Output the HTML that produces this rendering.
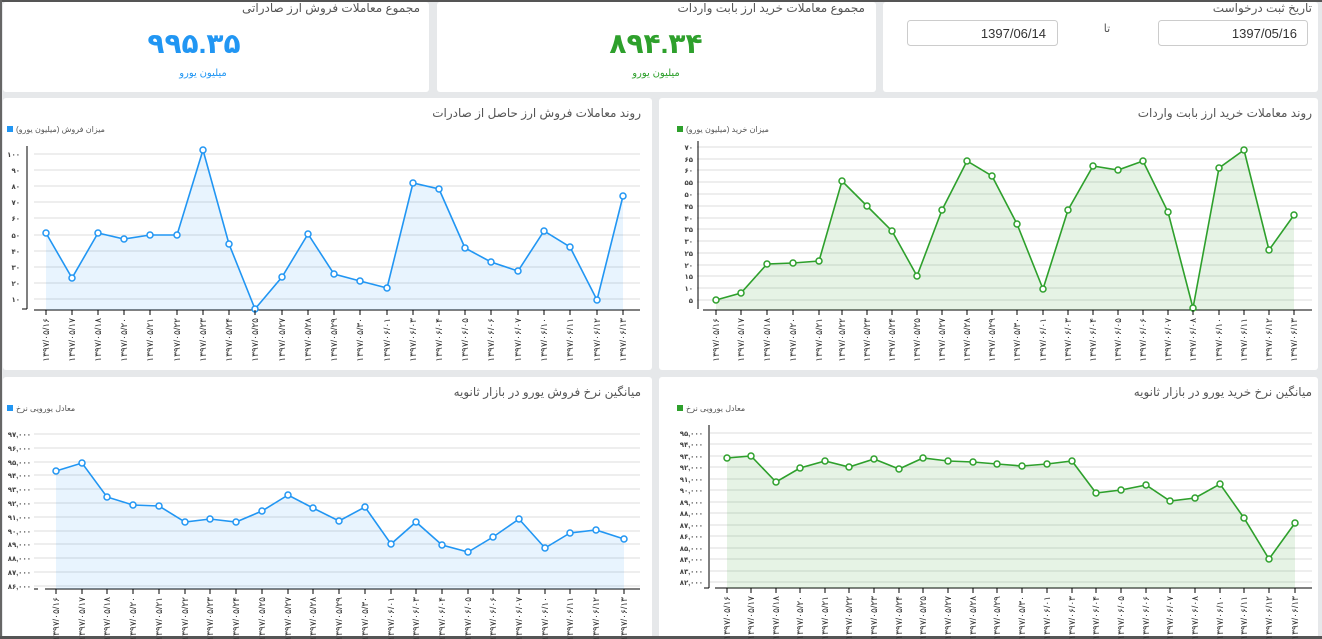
<!DOCTYPE html>
<html><head><meta charset="utf-8"><style>
html,body{margin:0;padding:0;background:#e6e8ea;width:1322px;height:639px;overflow:hidden}
svg{display:block;font-family:"Liberation Sans","DejaVu Sans",sans-serif}
.t{font-size:12px;fill:#555;text-anchor:start;direction:rtl}
.lg{font-size:8px;fill:#555;text-anchor:end;direction:rtl}
.yl{font-size:7px;fill:#444;text-anchor:end;font-weight:bold}
.xl{font-size:9px;fill:#333;text-anchor:end}
.g{stroke:#dcdcdc;stroke-width:1}
</style></head><body>
<svg width="1322" height="639" viewBox="0 0 1322 639">
<rect x="0" y="0" width="1322" height="639" fill="#e6e8ea"/>
<rect x="3" y="2" width="426" height="90" rx="3" fill="#fff"/>
<rect x="437" y="2" width="439" height="90" rx="3" fill="#fff"/>
<rect x="883" y="2" width="435" height="90" rx="3" fill="#fff"/>
<text x="420" y="12" class="t">مجموع معاملات فروش ارز صادراتی</text>
<text x="194" y="53" font-size="28" font-weight="bold" fill="#2196f3" text-anchor="middle">۹۹۵.۳۵</text>
<text x="203" y="76" font-size="10" fill="#2196f3" text-anchor="middle">میلیون یورو</text>
<text x="865" y="12" class="t">مجموع معاملات خرید ارز بابت واردات</text>
<text x="656" y="53" font-size="28" font-weight="bold" fill="#2ea02c" text-anchor="middle">۸۹۴.۳۴</text>
<text x="656" y="76" font-size="10" fill="#2ea02c" text-anchor="middle">میلیون یورو</text>
<text x="1312" y="12" class="t">تاریخ ثبت درخواست</text>
<rect x="907.5" y="20.5" width="150" height="25" rx="3" fill="#fff" stroke="#ccc"/>
<rect x="1158.5" y="20.5" width="149" height="25" rx="3" fill="#fff" stroke="#ccc"/>
<text x="1046" y="38" font-size="13" fill="#333" text-anchor="end">1397/06/14</text>
<text x="1297" y="38" font-size="13" fill="#333" text-anchor="end">1397/05/16</text>
<text x="1107" y="32" font-size="11" fill="#555" text-anchor="middle">تا</text>
<rect x="3" y="98" width="649" height="272" rx="3" fill="#fff"/>
<rect x="659" y="98" width="659" height="272" rx="3" fill="#fff"/>
<rect x="3" y="377" width="649" height="262" rx="3" fill="#fff"/>
<rect x="659" y="377" width="659" height="262" rx="3" fill="#fff"/>
<rect x="0" y="0" width="1322" height="2" fill="#555"/>
<rect x="0" y="0" width="2" height="639" fill="#666"/>
<rect x="0" y="636" width="1322" height="3" fill="#555"/>

<text x="641" y="117" class="t">روند معاملات فروش ارز حاصل از صادرات</text>
<rect x="7" y="126" width="6" height="6" fill="#2196f3"/>
<text x="16" y="132" class="lg">میزان فروش (میلیون یورو)</text>
<g class="g">
<line x1="34" y1="154" x2="640" y2="154"/><line x1="34" y1="170" x2="640" y2="170"/><line x1="34" y1="186" x2="640" y2="186"/><line x1="34" y1="202" x2="640" y2="202"/><line x1="34" y1="218" x2="640" y2="218"/><line x1="34" y1="235" x2="640" y2="235"/><line x1="34" y1="251" x2="640" y2="251"/><line x1="34" y1="267" x2="640" y2="267"/><line x1="34" y1="283" x2="640" y2="283"/><line x1="34" y1="299" x2="640" y2="299"/>
</g>
<g class="yl"><text x="20" y="157">۱۰۰</text><text x="20" y="173">۹۰</text><text x="20" y="189">۸۰</text><text x="20" y="205">۷۰</text><text x="20" y="221">۶۰</text><text x="20" y="238">۵۰</text><text x="20" y="254">۴۰</text><text x="20" y="270">۳۰</text><text x="20" y="286">۲۰</text><text x="20" y="302">۱۰</text></g>
<line x1="27" y1="146" x2="27" y2="309" stroke="#000"/><line x1="22" y1="309" x2="27" y2="309" stroke="#000"/>
<line x1="34" y1="310" x2="640" y2="310" stroke="#000"/>
<polygon fill="#2196f3" fill-opacity="0.1" points="46,310 46,233 72,278 98,233 124,239 150,235 177,235 203,150 229,244 255,309 282,277 308,234 334,274 360,281 387,288 413,183 439,189 465,248 491,262 518,271 544,231 570,247 597,300 623,196 623,310"/>
<polyline fill="none" stroke="#2196f3" stroke-width="1.6" points="46,233 72,278 98,233 124,239 150,235 177,235 203,150 229,244 255,309 282,277 308,234 334,274 360,281 387,288 413,183 439,189 465,248 491,262 518,271 544,231 570,247 597,300 623,196"/>
<g fill="#fff" stroke="#2196f3" stroke-width="1.5"><circle cx="46" cy="233" r="3"/><circle cx="72" cy="278" r="3"/><circle cx="98" cy="233" r="3"/><circle cx="124" cy="239" r="3"/><circle cx="150" cy="235" r="3"/><circle cx="177" cy="235" r="3"/><circle cx="203" cy="150" r="3"/><circle cx="229" cy="244" r="3"/><circle cx="255" cy="309" r="3"/><circle cx="282" cy="277" r="3"/><circle cx="308" cy="234" r="3"/><circle cx="334" cy="274" r="3"/><circle cx="360" cy="281" r="3"/><circle cx="387" cy="288" r="3"/><circle cx="413" cy="183" r="3"/><circle cx="439" cy="189" r="3"/><circle cx="465" cy="248" r="3"/><circle cx="491" cy="262" r="3"/><circle cx="518" cy="271" r="3"/><circle cx="544" cy="231" r="3"/><circle cx="570" cy="247" r="3"/><circle cx="597" cy="300" r="3"/><circle cx="623" cy="196" r="3"/></g>
<g stroke="#000"><line x1="46" y1="310" x2="46" y2="315"/><line x1="72" y1="310" x2="72" y2="315"/><line x1="98" y1="310" x2="98" y2="315"/><line x1="124" y1="310" x2="124" y2="315"/><line x1="150" y1="310" x2="150" y2="315"/><line x1="177" y1="310" x2="177" y2="315"/><line x1="203" y1="310" x2="203" y2="315"/><line x1="229" y1="310" x2="229" y2="315"/><line x1="255" y1="310" x2="255" y2="315"/><line x1="282" y1="310" x2="282" y2="315"/><line x1="308" y1="310" x2="308" y2="315"/><line x1="334" y1="310" x2="334" y2="315"/><line x1="360" y1="310" x2="360" y2="315"/><line x1="387" y1="310" x2="387" y2="315"/><line x1="413" y1="310" x2="413" y2="315"/><line x1="439" y1="310" x2="439" y2="315"/><line x1="465" y1="310" x2="465" y2="315"/><line x1="491" y1="310" x2="491" y2="315"/><line x1="518" y1="310" x2="518" y2="315"/><line x1="544" y1="310" x2="544" y2="315"/><line x1="570" y1="310" x2="570" y2="315"/><line x1="597" y1="310" x2="597" y2="315"/><line x1="623" y1="310" x2="623" y2="315"/></g>
<g class="xl">
<text transform="translate(49,318) rotate(-90)">۱۳۹۷/۰۵/۱۶</text><text transform="translate(75,318) rotate(-90)">۱۳۹۷/۰۵/۱۷</text><text transform="translate(101,318) rotate(-90)">۱۳۹۷/۰۵/۱۸</text><text transform="translate(127,318) rotate(-90)">۱۳۹۷/۰۵/۲۰</text><text transform="translate(153,318) rotate(-90)">۱۳۹۷/۰۵/۲۱</text><text transform="translate(180,318) rotate(-90)">۱۳۹۷/۰۵/۲۲</text><text transform="translate(206,318) rotate(-90)">۱۳۹۷/۰۵/۲۳</text><text transform="translate(232,318) rotate(-90)">۱۳۹۷/۰۵/۲۴</text><text transform="translate(258,318) rotate(-90)">۱۳۹۷/۰۵/۲۵</text><text transform="translate(285,318) rotate(-90)">۱۳۹۷/۰۵/۲۷</text><text transform="translate(311,318) rotate(-90)">۱۳۹۷/۰۵/۲۸</text><text transform="translate(337,318) rotate(-90)">۱۳۹۷/۰۵/۲۹</text><text transform="translate(363,318) rotate(-90)">۱۳۹۷/۰۵/۳۰</text><text transform="translate(390,318) rotate(-90)">۱۳۹۷/۰۶/۰۱</text><text transform="translate(416,318) rotate(-90)">۱۳۹۷/۰۶/۰۳</text><text transform="translate(442,318) rotate(-90)">۱۳۹۷/۰۶/۰۴</text><text transform="translate(468,318) rotate(-90)">۱۳۹۷/۰۶/۰۵</text><text transform="translate(494,318) rotate(-90)">۱۳۹۷/۰۶/۰۶</text><text transform="translate(521,318) rotate(-90)">۱۳۹۷/۰۶/۰۷</text><text transform="translate(547,318) rotate(-90)">۱۳۹۷/۰۶/۱۰</text><text transform="translate(573,318) rotate(-90)">۱۳۹۷/۰۶/۱۱</text><text transform="translate(600,318) rotate(-90)">۱۳۹۷/۰۶/۱۲</text><text transform="translate(626,318) rotate(-90)">۱۳۹۷/۰۶/۱۳</text>
</g>

<text x="1312" y="117" class="t">روند معاملات خرید ارز بابت واردات</text>
<rect x="677" y="126" width="6" height="6" fill="#2ea02c"/>
<text x="686" y="132" class="lg">میزان خرید (میلیون یورو)</text>
<g class="g">
<line x1="697" y1="147" x2="1312" y2="147"/><line x1="697" y1="159" x2="1312" y2="159"/><line x1="697" y1="170" x2="1312" y2="170"/><line x1="697" y1="182" x2="1312" y2="182"/><line x1="697" y1="194" x2="1312" y2="194"/><line x1="697" y1="206" x2="1312" y2="206"/><line x1="697" y1="218" x2="1312" y2="218"/><line x1="697" y1="229" x2="1312" y2="229"/><line x1="697" y1="241" x2="1312" y2="241"/><line x1="697" y1="253" x2="1312" y2="253"/><line x1="697" y1="265" x2="1312" y2="265"/><line x1="697" y1="276" x2="1312" y2="276"/><line x1="697" y1="288" x2="1312" y2="288"/><line x1="697" y1="300" x2="1312" y2="300"/>
</g>
<g class="yl"><text x="693" y="150">۷۰</text><text x="693" y="162">۶۵</text><text x="693" y="173">۶۰</text><text x="693" y="185">۵۵</text><text x="693" y="197">۵۰</text><text x="693" y="209">۴۵</text><text x="693" y="221">۴۰</text><text x="693" y="232">۳۵</text><text x="693" y="244">۳۰</text><text x="693" y="256">۲۵</text><text x="693" y="268">۲۰</text><text x="693" y="279">۱۵</text><text x="693" y="291">۱۰</text><text x="693" y="303">۵</text></g>
<line x1="698" y1="141" x2="698" y2="309" stroke="#000"/>
<line x1="703" y1="310" x2="1312" y2="310" stroke="#000"/>
<polygon fill="#2ea02c" fill-opacity="0.12" points="716,310 716,300 741,293 767,264 793,263 819,261 842,181 867,206 892,231 917,276 942,210 967,161 992,176 1017,224 1043,289 1068,210 1093,166 1118,170 1143,161 1168,212 1193,308 1219,168 1244,150 1269,250 1294,215 1294,310"/>
<polyline fill="none" stroke="#2ea02c" stroke-width="1.6" points="716,300 741,293 767,264 793,263 819,261 842,181 867,206 892,231 917,276 942,210 967,161 992,176 1017,224 1043,289 1068,210 1093,166 1118,170 1143,161 1168,212 1193,308 1219,168 1244,150 1269,250 1294,215"/>
<g fill="#fff" stroke="#2ea02c" stroke-width="1.5"><circle cx="716" cy="300" r="3"/><circle cx="741" cy="293" r="3"/><circle cx="767" cy="264" r="3"/><circle cx="793" cy="263" r="3"/><circle cx="819" cy="261" r="3"/><circle cx="842" cy="181" r="3"/><circle cx="867" cy="206" r="3"/><circle cx="892" cy="231" r="3"/><circle cx="917" cy="276" r="3"/><circle cx="942" cy="210" r="3"/><circle cx="967" cy="161" r="3"/><circle cx="992" cy="176" r="3"/><circle cx="1017" cy="224" r="3"/><circle cx="1043" cy="289" r="3"/><circle cx="1068" cy="210" r="3"/><circle cx="1093" cy="166" r="3"/><circle cx="1118" cy="170" r="3"/><circle cx="1143" cy="161" r="3"/><circle cx="1168" cy="212" r="3"/><circle cx="1193" cy="308" r="3"/><circle cx="1219" cy="168" r="3"/><circle cx="1244" cy="150" r="3"/><circle cx="1269" cy="250" r="3"/><circle cx="1294" cy="215" r="3"/></g>
<g stroke="#000"><line x1="716" y1="310" x2="716" y2="315"/><line x1="741" y1="310" x2="741" y2="315"/><line x1="767" y1="310" x2="767" y2="315"/><line x1="793" y1="310" x2="793" y2="315"/><line x1="819" y1="310" x2="819" y2="315"/><line x1="842" y1="310" x2="842" y2="315"/><line x1="867" y1="310" x2="867" y2="315"/><line x1="892" y1="310" x2="892" y2="315"/><line x1="917" y1="310" x2="917" y2="315"/><line x1="942" y1="310" x2="942" y2="315"/><line x1="967" y1="310" x2="967" y2="315"/><line x1="992" y1="310" x2="992" y2="315"/><line x1="1017" y1="310" x2="1017" y2="315"/><line x1="1043" y1="310" x2="1043" y2="315"/><line x1="1068" y1="310" x2="1068" y2="315"/><line x1="1093" y1="310" x2="1093" y2="315"/><line x1="1118" y1="310" x2="1118" y2="315"/><line x1="1143" y1="310" x2="1143" y2="315"/><line x1="1168" y1="310" x2="1168" y2="315"/><line x1="1193" y1="310" x2="1193" y2="315"/><line x1="1219" y1="310" x2="1219" y2="315"/><line x1="1244" y1="310" x2="1244" y2="315"/><line x1="1269" y1="310" x2="1269" y2="315"/><line x1="1294" y1="310" x2="1294" y2="315"/></g>
<g class="xl">
<text transform="translate(719,318) rotate(-90)">۱۳۹۷/۰۵/۱۶</text><text transform="translate(744,318) rotate(-90)">۱۳۹۷/۰۵/۱۷</text><text transform="translate(770,318) rotate(-90)">۱۳۹۷/۰۵/۱۸</text><text transform="translate(796,318) rotate(-90)">۱۳۹۷/۰۵/۲۰</text><text transform="translate(822,318) rotate(-90)">۱۳۹۷/۰۵/۲۱</text><text transform="translate(845,318) rotate(-90)">۱۳۹۷/۰۵/۲۲</text><text transform="translate(870,318) rotate(-90)">۱۳۹۷/۰۵/۲۳</text><text transform="translate(895,318) rotate(-90)">۱۳۹۷/۰۵/۲۴</text><text transform="translate(920,318) rotate(-90)">۱۳۹۷/۰۵/۲۵</text><text transform="translate(945,318) rotate(-90)">۱۳۹۷/۰۵/۲۷</text><text transform="translate(970,318) rotate(-90)">۱۳۹۷/۰۵/۲۸</text><text transform="translate(995,318) rotate(-90)">۱۳۹۷/۰۵/۲۹</text><text transform="translate(1020,318) rotate(-90)">۱۳۹۷/۰۵/۳۰</text><text transform="translate(1046,318) rotate(-90)">۱۳۹۷/۰۶/۰۱</text><text transform="translate(1071,318) rotate(-90)">۱۳۹۷/۰۶/۰۳</text><text transform="translate(1096,318) rotate(-90)">۱۳۹۷/۰۶/۰۴</text><text transform="translate(1121,318) rotate(-90)">۱۳۹۷/۰۶/۰۵</text><text transform="translate(1146,318) rotate(-90)">۱۳۹۷/۰۶/۰۶</text><text transform="translate(1171,318) rotate(-90)">۱۳۹۷/۰۶/۰۷</text><text transform="translate(1196,318) rotate(-90)">۱۳۹۷/۰۶/۰۸</text><text transform="translate(1222,318) rotate(-90)">۱۳۹۷/۰۶/۱۰</text><text transform="translate(1247,318) rotate(-90)">۱۳۹۷/۰۶/۱۱</text><text transform="translate(1272,318) rotate(-90)">۱۳۹۷/۰۶/۱۲</text><text transform="translate(1297,318) rotate(-90)">۱۳۹۷/۰۶/۱۳</text>
</g>

<text x="641" y="396" class="t">میانگین نرخ فروش یورو در بازار ثانویه</text>
<rect x="7" y="405" width="6" height="6" fill="#2196f3"/>
<text x="16" y="411" class="lg">معادل یورویی نرخ</text>
<g class="g">
<line x1="34" y1="434" x2="640" y2="434"/><line x1="34" y1="448" x2="640" y2="448"/><line x1="34" y1="462" x2="640" y2="462"/><line x1="34" y1="475" x2="640" y2="475"/><line x1="34" y1="489" x2="640" y2="489"/><line x1="34" y1="503" x2="640" y2="503"/><line x1="34" y1="517" x2="640" y2="517"/><line x1="34" y1="531" x2="640" y2="531"/><line x1="34" y1="544" x2="640" y2="544"/><line x1="34" y1="558" x2="640" y2="558"/><line x1="34" y1="572" x2="640" y2="572"/><line x1="34" y1="586" x2="640" y2="586"/>
</g>
<g class="yl"><text x="31" y="437">۹۷,۰۰۰</text><text x="31" y="451">۹۶,۰۰۰</text><text x="31" y="465">۹۵,۰۰۰</text><text x="31" y="478">۹۴,۰۰۰</text><text x="31" y="492">۹۳,۰۰۰</text><text x="31" y="506">۹۲,۰۰۰</text><text x="31" y="520">۹۱,۰۰۰</text><text x="31" y="534">۹۰,۰۰۰</text><text x="31" y="547">۸۹,۰۰۰</text><text x="31" y="561">۸۸,۰۰۰</text><text x="31" y="575">۸۷,۰۰۰</text><text x="31" y="589">۸۶,۰۰۰</text></g>
<line x1="34" y1="589" x2="38" y2="589" stroke="#000"/>
<line x1="45" y1="589" x2="640" y2="589" stroke="#000"/>
<polygon fill="#2196f3" fill-opacity="0.1" points="56,589 56,471 82,463 107,497 133,505 159,506 185,522 210,519 236,522 262,511 288,495 313,508 339,521 365,507 391,544 416,522 442,545 468,552 493,537 519,519 545,548 570,533 596,530 624,539 624,589"/>
<polyline fill="none" stroke="#2196f3" stroke-width="1.6" points="56,471 82,463 107,497 133,505 159,506 185,522 210,519 236,522 262,511 288,495 313,508 339,521 365,507 391,544 416,522 442,545 468,552 493,537 519,519 545,548 570,533 596,530 624,539"/>
<g fill="#fff" stroke="#2196f3" stroke-width="1.5"><circle cx="56" cy="471" r="3"/><circle cx="82" cy="463" r="3"/><circle cx="107" cy="497" r="3"/><circle cx="133" cy="505" r="3"/><circle cx="159" cy="506" r="3"/><circle cx="185" cy="522" r="3"/><circle cx="210" cy="519" r="3"/><circle cx="236" cy="522" r="3"/><circle cx="262" cy="511" r="3"/><circle cx="288" cy="495" r="3"/><circle cx="313" cy="508" r="3"/><circle cx="339" cy="521" r="3"/><circle cx="365" cy="507" r="3"/><circle cx="391" cy="544" r="3"/><circle cx="416" cy="522" r="3"/><circle cx="442" cy="545" r="3"/><circle cx="468" cy="552" r="3"/><circle cx="493" cy="537" r="3"/><circle cx="519" cy="519" r="3"/><circle cx="545" cy="548" r="3"/><circle cx="570" cy="533" r="3"/><circle cx="596" cy="530" r="3"/><circle cx="624" cy="539" r="3"/></g>
<g stroke="#000"><line x1="56" y1="589" x2="56" y2="594"/><line x1="82" y1="589" x2="82" y2="594"/><line x1="107" y1="589" x2="107" y2="594"/><line x1="133" y1="589" x2="133" y2="594"/><line x1="159" y1="589" x2="159" y2="594"/><line x1="185" y1="589" x2="185" y2="594"/><line x1="210" y1="589" x2="210" y2="594"/><line x1="236" y1="589" x2="236" y2="594"/><line x1="262" y1="589" x2="262" y2="594"/><line x1="288" y1="589" x2="288" y2="594"/><line x1="313" y1="589" x2="313" y2="594"/><line x1="339" y1="589" x2="339" y2="594"/><line x1="365" y1="589" x2="365" y2="594"/><line x1="391" y1="589" x2="391" y2="594"/><line x1="416" y1="589" x2="416" y2="594"/><line x1="442" y1="589" x2="442" y2="594"/><line x1="468" y1="589" x2="468" y2="594"/><line x1="493" y1="589" x2="493" y2="594"/><line x1="519" y1="589" x2="519" y2="594"/><line x1="545" y1="589" x2="545" y2="594"/><line x1="570" y1="589" x2="570" y2="594"/><line x1="596" y1="589" x2="596" y2="594"/><line x1="624" y1="589" x2="624" y2="594"/></g>
<g class="xl">
<text transform="translate(59,597) rotate(-90)">۱۳۹۷/۰۵/۱۶</text><text transform="translate(85,597) rotate(-90)">۱۳۹۷/۰۵/۱۷</text><text transform="translate(110,597) rotate(-90)">۱۳۹۷/۰۵/۱۸</text><text transform="translate(136,597) rotate(-90)">۱۳۹۷/۰۵/۲۰</text><text transform="translate(162,597) rotate(-90)">۱۳۹۷/۰۵/۲۱</text><text transform="translate(188,597) rotate(-90)">۱۳۹۷/۰۵/۲۲</text><text transform="translate(213,597) rotate(-90)">۱۳۹۷/۰۵/۲۳</text><text transform="translate(239,597) rotate(-90)">۱۳۹۷/۰۵/۲۴</text><text transform="translate(265,597) rotate(-90)">۱۳۹۷/۰۵/۲۵</text><text transform="translate(291,597) rotate(-90)">۱۳۹۷/۰۵/۲۷</text><text transform="translate(316,597) rotate(-90)">۱۳۹۷/۰۵/۲۸</text><text transform="translate(342,597) rotate(-90)">۱۳۹۷/۰۵/۲۹</text><text transform="translate(368,597) rotate(-90)">۱۳۹۷/۰۵/۳۰</text><text transform="translate(394,597) rotate(-90)">۱۳۹۷/۰۶/۰۱</text><text transform="translate(419,597) rotate(-90)">۱۳۹۷/۰۶/۰۳</text><text transform="translate(445,597) rotate(-90)">۱۳۹۷/۰۶/۰۴</text><text transform="translate(471,597) rotate(-90)">۱۳۹۷/۰۶/۰۵</text><text transform="translate(496,597) rotate(-90)">۱۳۹۷/۰۶/۰۶</text><text transform="translate(522,597) rotate(-90)">۱۳۹۷/۰۶/۰۷</text><text transform="translate(548,597) rotate(-90)">۱۳۹۷/۰۶/۱۰</text><text transform="translate(573,597) rotate(-90)">۱۳۹۷/۰۶/۱۱</text><text transform="translate(599,597) rotate(-90)">۱۳۹۷/۰۶/۱۲</text><text transform="translate(627,597) rotate(-90)">۱۳۹۷/۰۶/۱۳</text>
</g>

<text x="1312" y="396" class="t">میانگین نرخ خرید یورو در بازار ثانویه</text>
<rect x="677" y="405" width="6" height="6" fill="#2ea02c"/>
<text x="686" y="411" class="lg">معادل یورویی نرخ</text>
<g class="g">
<line x1="710" y1="433" x2="1312" y2="433"/><line x1="710" y1="444" x2="1312" y2="444"/><line x1="710" y1="456" x2="1312" y2="456"/><line x1="710" y1="467" x2="1312" y2="467"/><line x1="710" y1="479" x2="1312" y2="479"/><line x1="710" y1="490" x2="1312" y2="490"/><line x1="710" y1="502" x2="1312" y2="502"/><line x1="710" y1="513" x2="1312" y2="513"/><line x1="710" y1="525" x2="1312" y2="525"/><line x1="710" y1="536" x2="1312" y2="536"/><line x1="710" y1="548" x2="1312" y2="548"/><line x1="710" y1="559" x2="1312" y2="559"/><line x1="710" y1="571" x2="1312" y2="571"/><line x1="710" y1="582" x2="1312" y2="582"/>
</g>
<g class="yl"><text x="703" y="436">۹۵,۰۰۰</text><text x="703" y="447">۹۴,۰۰۰</text><text x="703" y="459">۹۳,۰۰۰</text><text x="703" y="470">۹۲,۰۰۰</text><text x="703" y="482">۹۱,۰۰۰</text><text x="703" y="493">۹۰,۰۰۰</text><text x="703" y="505">۸۹,۰۰۰</text><text x="703" y="516">۸۸,۰۰۰</text><text x="703" y="528">۸۷,۰۰۰</text><text x="703" y="539">۸۶,۰۰۰</text><text x="703" y="551">۸۵,۰۰۰</text><text x="703" y="562">۸۴,۰۰۰</text><text x="703" y="574">۸۳,۰۰۰</text><text x="703" y="585">۸۲,۰۰۰</text></g>
<line x1="709" y1="425" x2="709" y2="588" stroke="#000"/><line x1="704" y1="588" x2="709" y2="588" stroke="#000"/>
<line x1="715" y1="588" x2="1312" y2="588" stroke="#000"/>
<polygon fill="#2ea02c" fill-opacity="0.12" points="727,588 727,458 751,456 776,482 800,468 825,461 849,467 874,459 899,469 923,458 948,461 973,462 997,464 1022,466 1047,464 1072,461 1096,493 1121,490 1146,485 1170,501 1195,498 1220,484 1244,518 1269,559 1295,523 1295,588"/>
<polyline fill="none" stroke="#2ea02c" stroke-width="1.6" points="727,458 751,456 776,482 800,468 825,461 849,467 874,459 899,469 923,458 948,461 973,462 997,464 1022,466 1047,464 1072,461 1096,493 1121,490 1146,485 1170,501 1195,498 1220,484 1244,518 1269,559 1295,523"/>
<g fill="#fff" stroke="#2ea02c" stroke-width="1.5"><circle cx="727" cy="458" r="3"/><circle cx="751" cy="456" r="3"/><circle cx="776" cy="482" r="3"/><circle cx="800" cy="468" r="3"/><circle cx="825" cy="461" r="3"/><circle cx="849" cy="467" r="3"/><circle cx="874" cy="459" r="3"/><circle cx="899" cy="469" r="3"/><circle cx="923" cy="458" r="3"/><circle cx="948" cy="461" r="3"/><circle cx="973" cy="462" r="3"/><circle cx="997" cy="464" r="3"/><circle cx="1022" cy="466" r="3"/><circle cx="1047" cy="464" r="3"/><circle cx="1072" cy="461" r="3"/><circle cx="1096" cy="493" r="3"/><circle cx="1121" cy="490" r="3"/><circle cx="1146" cy="485" r="3"/><circle cx="1170" cy="501" r="3"/><circle cx="1195" cy="498" r="3"/><circle cx="1220" cy="484" r="3"/><circle cx="1244" cy="518" r="3"/><circle cx="1269" cy="559" r="3"/><circle cx="1295" cy="523" r="3"/></g>
<g stroke="#000"><line x1="727" y1="588" x2="727" y2="593"/><line x1="751" y1="588" x2="751" y2="593"/><line x1="776" y1="588" x2="776" y2="593"/><line x1="800" y1="588" x2="800" y2="593"/><line x1="825" y1="588" x2="825" y2="593"/><line x1="849" y1="588" x2="849" y2="593"/><line x1="874" y1="588" x2="874" y2="593"/><line x1="899" y1="588" x2="899" y2="593"/><line x1="923" y1="588" x2="923" y2="593"/><line x1="948" y1="588" x2="948" y2="593"/><line x1="973" y1="588" x2="973" y2="593"/><line x1="997" y1="588" x2="997" y2="593"/><line x1="1022" y1="588" x2="1022" y2="593"/><line x1="1047" y1="588" x2="1047" y2="593"/><line x1="1072" y1="588" x2="1072" y2="593"/><line x1="1096" y1="588" x2="1096" y2="593"/><line x1="1121" y1="588" x2="1121" y2="593"/><line x1="1146" y1="588" x2="1146" y2="593"/><line x1="1170" y1="588" x2="1170" y2="593"/><line x1="1195" y1="588" x2="1195" y2="593"/><line x1="1220" y1="588" x2="1220" y2="593"/><line x1="1244" y1="588" x2="1244" y2="593"/><line x1="1269" y1="588" x2="1269" y2="593"/><line x1="1295" y1="588" x2="1295" y2="593"/></g>
<g class="xl">
<text transform="translate(730,596) rotate(-90)">۱۳۹۷/۰۵/۱۶</text><text transform="translate(754,596) rotate(-90)">۱۳۹۷/۰۵/۱۷</text><text transform="translate(779,596) rotate(-90)">۱۳۹۷/۰۵/۱۸</text><text transform="translate(803,596) rotate(-90)">۱۳۹۷/۰۵/۲۰</text><text transform="translate(828,596) rotate(-90)">۱۳۹۷/۰۵/۲۱</text><text transform="translate(852,596) rotate(-90)">۱۳۹۷/۰۵/۲۲</text><text transform="translate(877,596) rotate(-90)">۱۳۹۷/۰۵/۲۳</text><text transform="translate(902,596) rotate(-90)">۱۳۹۷/۰۵/۲۴</text><text transform="translate(926,596) rotate(-90)">۱۳۹۷/۰۵/۲۵</text><text transform="translate(951,596) rotate(-90)">۱۳۹۷/۰۵/۲۷</text><text transform="translate(976,596) rotate(-90)">۱۳۹۷/۰۵/۲۸</text><text transform="translate(1000,596) rotate(-90)">۱۳۹۷/۰۵/۲۹</text><text transform="translate(1025,596) rotate(-90)">۱۳۹۷/۰۵/۳۰</text><text transform="translate(1050,596) rotate(-90)">۱۳۹۷/۰۶/۰۱</text><text transform="translate(1075,596) rotate(-90)">۱۳۹۷/۰۶/۰۳</text><text transform="translate(1099,596) rotate(-90)">۱۳۹۷/۰۶/۰۴</text><text transform="translate(1124,596) rotate(-90)">۱۳۹۷/۰۶/۰۵</text><text transform="translate(1149,596) rotate(-90)">۱۳۹۷/۰۶/۰۶</text><text transform="translate(1173,596) rotate(-90)">۱۳۹۷/۰۶/۰۷</text><text transform="translate(1198,596) rotate(-90)">۱۳۹۷/۰۶/۰۸</text><text transform="translate(1223,596) rotate(-90)">۱۳۹۷/۰۶/۱۰</text><text transform="translate(1247,596) rotate(-90)">۱۳۹۷/۰۶/۱۱</text><text transform="translate(1272,596) rotate(-90)">۱۳۹۷/۰۶/۱۲</text><text transform="translate(1298,596) rotate(-90)">۱۳۹۷/۰۶/۱۳</text>
</g>
</svg>
</body></html>
